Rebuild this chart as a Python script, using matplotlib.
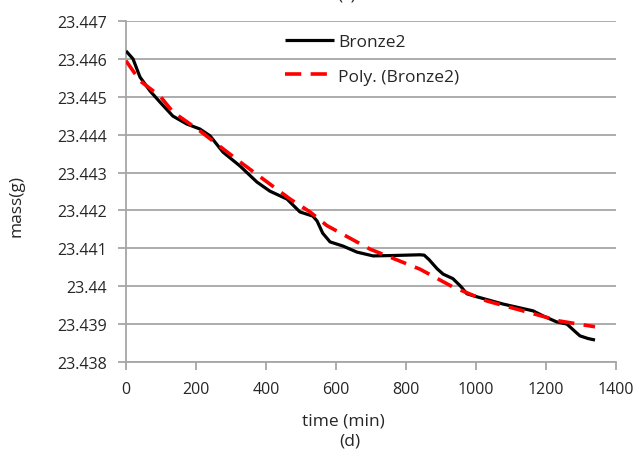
import numpy as np
import matplotlib
matplotlib.use("Agg")
import matplotlib.pyplot as plt
from matplotlib.ticker import FixedLocator, FixedFormatter

plt.rcParams['font.family'] = ['Open Sans', 'DejaVu Sans']

# measured mass of Bronze2 over time
time_min = [0, 20, 40, 69, 97, 134, 174, 211, 240, 277, 326, 374, 411, 460,
            497, 534, 546, 562, 583, 620, 660, 706, 760, 840, 852, 866, 889,
            906, 934, 956, 974, 1003, 1077, 1163, 1191, 1230, 1260, 1280,
            1297, 1320, 1340]
mass_g = [23.44621, 23.44600, 23.44552, 23.44515, 23.44486, 23.44449, 23.44428,
          23.44415, 23.44397, 23.44354, 23.44317, 23.44275, 23.44251, 23.44230,
          23.44196, 23.44185, 23.44172, 23.44140, 23.44117, 23.44106, 23.44090,
          23.44080, 23.44081, 23.44083, 23.44082, 23.44070, 23.44046, 23.44032,
          23.44020, 23.44000, 23.43980, 23.43972, 23.43953, 23.43935, 23.43922,
          23.43906, 23.43900, 23.43883, 23.43869, 23.43862, 23.43858]

# polynomial trend line
trend_t = [0, 40, 97, 134, 211, 326, 469, 526, 574, 697, 840, 934, 1031,
           1146, 1240, 1340]
trend_m = [23.44595, 23.44542, 23.44502, 23.44460, 23.44410, 23.44328,
           23.44230, 23.44196, 23.44160, 23.44098, 23.44045, 23.43998,
           23.43961, 23.43932, 23.43908, 23.43893]

y_ticks = [23.438, 23.439, 23.44, 23.441, 23.442, 23.443, 23.444, 23.445,
           23.446, 23.447]
y_labels = ["23.438", "23.439", "23.44", "23.441", "23.442", "23.443",
            "23.444", "23.445", "23.446", "23.447"]
x_ticks = [0, 200, 400, 600, 800, 1000, 1200, 1400]

txt = '#262626'
grid_c = '#a6a6a6'

fig = plt.figure(figsize=(6.42, 4.56), dpi=100)
ax = fig.add_axes([126 / 642, 1 - 363 / 456, 490 / 642, 341 / 456])

ax.plot(time_min, mass_g, color='black', lw=2.3, label='Bronze2',
        solid_capstyle='butt', solid_joinstyle='round', zorder=3)
ax.plot(trend_t, trend_m, color='#ff0000', lw=2.6, ls=(0, (4.5, 2.6)),
        label='Poly. (Bronze2)', zorder=4)

ax.set_xlim(0, 1400)
ax.set_ylim(23.438, 23.447)
ax.yaxis.set_major_locator(FixedLocator(y_ticks))
ax.yaxis.set_major_formatter(FixedFormatter(y_labels))
ax.set_xticks(x_ticks)
ax.grid(axis='y', color=grid_c, lw=1.3)
ax.set_axisbelow(True)

for s in ['top', 'right']:
    ax.spines[s].set_visible(False)
for s in ['left', 'bottom']:
    ax.spines[s].set_color(grid_c)
    ax.spines[s].set_linewidth(1.3)
ax.tick_params(axis='both', colors=grid_c, labelcolor=txt, labelsize=11.5,
               length=5.5, width=1.3)
ax.tick_params(axis='y', pad=8)
ax.tick_params(axis='x', pad=8)

fig.text(17 / 642, 1 - 206 / 456, 'mass(g)', rotation=90, ha='center',
         va='center', fontsize=12.5, color=txt)
fig.text(343 / 642, 1 - 422 / 456, 'time (min)', ha='center', va='center',
         fontsize=12.5, color=txt)
fig.text(350 / 642, 1 - 442 / 456, '(d)', ha='center', va='center',
         fontsize=12.5, color=txt)
fig.text(347 / 642, 1 - 4 / 456, '(c)', ha='center', va='bottom',
         fontsize=12.5, color=txt)

ax.legend(loc='upper left', bbox_to_anchor=(285 / 642, 1 - 35 / 456),
          bbox_transform=fig.transFigure, frameon=False, fontsize=12.5,
          handlelength=2.8, handletextpad=0.25, labelspacing=1.05,
          borderpad=0, borderaxespad=0, labelcolor=txt)

fig.savefig('out.png', dpi=100)
